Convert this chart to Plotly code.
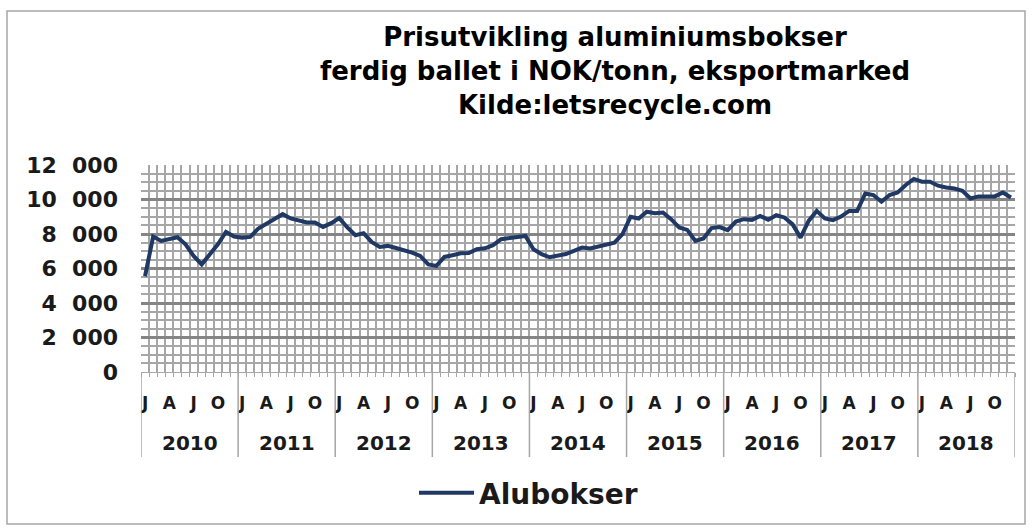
import plotly.graph_objects as go

years = [2010, 2011, 2012, 2013, 2014, 2015, 2016, 2017, 2018]
month_letters = ["J", "F", "M", "A", "M", "J", "J", "A", "S", "O", "N", "D"]
labelled_months = [0, 3, 6, 9]  # J A J O

alubokser = [
    5550, 7850, 7600, 7700, 7810, 7400, 6730, 6240, 6820, 7400, 8120, 7850,
    7790, 7830, 8320, 8610, 8920, 9150, 8900, 8760, 8670, 8670, 8410, 8630,
    8920, 8380, 7930, 8050, 7540, 7250, 7310, 7190, 7080, 6920, 6730, 6240,
    6150, 6670, 6770, 6880, 6900, 7120, 7170, 7350, 7700, 7770, 7790, 7890,
    7120, 6830, 6650, 6730, 6840, 7020, 7210, 7160, 7270, 7390, 7500, 7990,
    9000, 8900, 9290, 9210, 9250, 8860, 8380, 8240, 7600, 7740, 8340, 8400,
    8220, 8720, 8860, 8820, 9050, 8820, 9090, 8960, 8570, 7790, 8760, 9340,
    8900, 8800, 9010, 9340, 9340, 10350, 10260, 9870, 10260, 10410, 10840, 11190,
    11030, 11030, 10800, 10700, 10640, 10510, 10060, 10180, 10180, 10180, 10410, 10120,
]

y_tick_values = [0, 2000, 4000, 6000, 8000, 10000, 12000]
y_tick_labels = ["0", "2\u2007000", "4\u2007000", "6\u2007000", "8\u2007000",
                 "10\u2007000", "12\u2007000"]

title_lines = [
    "Prisutvikling aluminiumsbokser",
    "ferdig ballet i NOK/tonn, eksportmarked",
    "Kilde:letsrecycle.com",
]

n = len(years) * 12
x_idx = list(range(n))
tick_pos = [12 * k + m for k in range(len(years)) for m in labelled_months]
tick_txt = [month_letters[m] for k in range(len(years)) for m in labelled_months]

W, H = 1032, 531
L, R, T, B = 141, 1015, 165, 372

def px_x(p):
    return (p - L) / (R - L)

def px_y(p):
    return (B - p) / (B - T)

FONT = "DejaVu Sans"
TXT = "#1a1a1a"

fig = go.Figure()
fig.add_trace(go.Scatter(
    x=x_idx, y=alubokser, mode="lines", name="Alubokser",
    line=dict(color="#1F3864", width=4),
))

shapes = []
# year separators below axis
for k in range(len(years) + 1):
    shapes.append(dict(type="line", xref="x", yref="paper",
                       x0=12 * k - 0.5, x1=12 * k - 0.5,
                       y0=0, y1=px_y(457),
                       line=dict(color="#a6a6a6", width=1.5)))
# outer chart border
shapes.append(dict(type="rect", xref="paper", yref="paper",
                   x0=px_x(7), x1=px_x(1025), y0=px_y(11), y1=px_y(524),
                   line=dict(color="#a6a6a6", width=1.5), layer="below"))

annotations = []
for k, yr in enumerate(years):
    annotations.append(dict(x=12 * k + 5.5, y=px_y(443), xref="x", yref="paper",
                            text=str(yr), showarrow=False, yanchor="middle",
                            font=dict(family=FONT, size=20, color=TXT, weight="bold")))

fig.update_layout(
    width=W, height=H,
    margin=dict(l=L, r=W - R, t=T, b=H - B, pad=0),
    paper_bgcolor="white", plot_bgcolor="white",
    title=dict(text="<br>".join(title_lines), x=615 / W, xanchor="center",
               xref="container", y=1 - 46 / H, yanchor="top",
               font=dict(family=FONT, size=26, color="black", weight="bold")),
    showlegend=True,
    legend=dict(x=px_x(414), xanchor="left", y=px_y(493), yanchor="middle",
                orientation="h", bgcolor="rgba(0,0,0,0)",
                font=dict(family=FONT, size=28, color=TXT, weight="bold"),
                itemwidth=55),
    shapes=shapes,
    annotations=annotations,
)

fig.update_xaxes(
    range=[-0.5, n - 0.5],
    tickmode="array", tickvals=tick_pos, ticktext=tick_txt,
    showgrid=False, zeroline=False,
    ticks="", ticklabelstandoff=16,
    tickfont=dict(family=FONT, size=17, color=TXT, weight="bold"),
    showline=True, linecolor="#a6a6a6", linewidth=1,
    minor=dict(tickmode="array", tickvals=[i - 0.5 for i in range(n + 1)],
               showgrid=True, gridcolor="#a6a6a6", gridwidth=1.5,
               ticks="outside", ticklen=4, tickcolor="#a6a6a6"),
    fixedrange=True,
)

fig.update_yaxes(
    range=[0, 12000],
    tickmode="array", tickvals=y_tick_values, ticktext=y_tick_labels,
    showgrid=True, gridcolor="#858585", gridwidth=2.5,
    zeroline=False, ticks="", ticklabelstandoff=22,
    tickfont=dict(family=FONT, size=22, color=TXT, weight="bold"),
    minor=dict(dtick=500, showgrid=True, gridcolor="#a6a6a6", gridwidth=1.5),
    fixedrange=True,
)

fig.write_html("out.html", config={"displayModeBar": False},
               post_script="document.body.style.margin='0';")
